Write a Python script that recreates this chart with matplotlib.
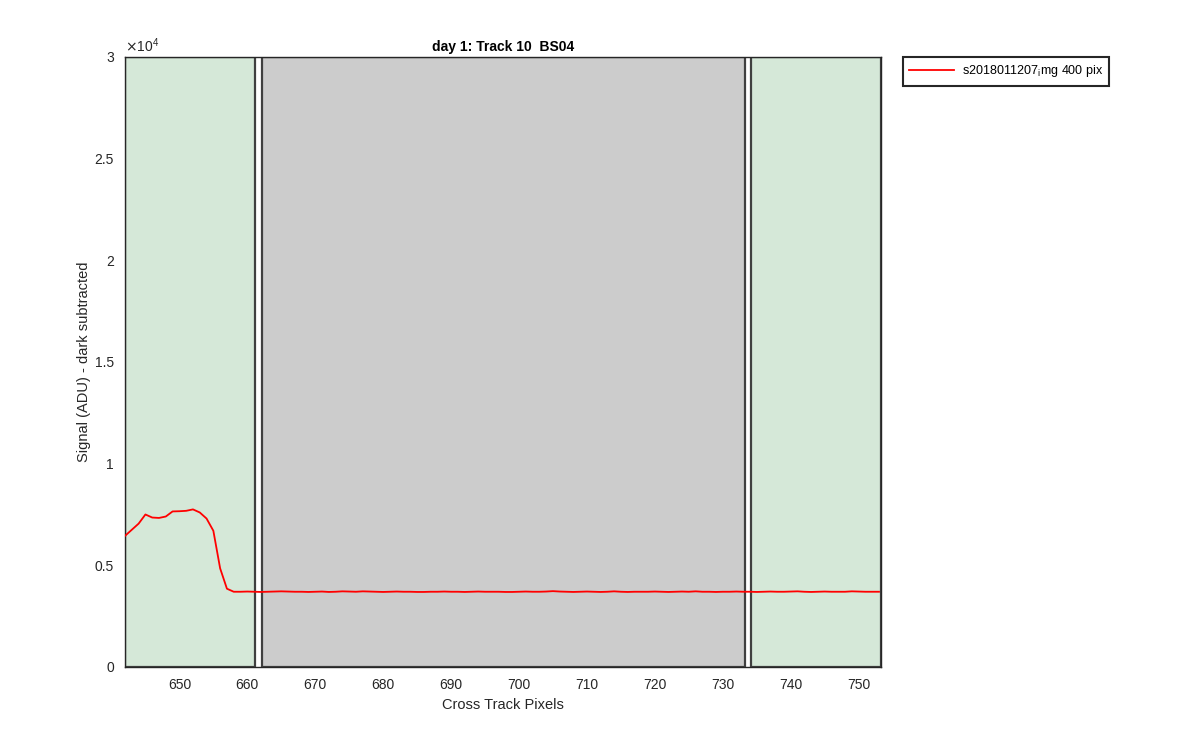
import numpy as np
import matplotlib.pyplot as plt
from matplotlib.patches import Rectangle

plt.rcParams['font.family'] = ['Liberation Sans', 'DejaVu Sans']

# cross track pixel signal, dark subtracted
pix = np.arange(642, 754)
signal = [6450, 6750, 7050, 7500, 7350, 7330, 7400, 7650, 7660, 7680,
          7750, 7600, 7300, 6700, 4850, 3850, 3700, 3700, 3710, 3700,
          3690, 3700, 3710, 3720, 3710, 3700, 3700, 3690, 3700, 3710,
          3690, 3700, 3720, 3710, 3700, 3720, 3710, 3700, 3690, 3700,
          3710, 3700, 3700, 3690, 3690, 3700, 3700, 3710, 3700, 3700,
          3690, 3700, 3710, 3700, 3700, 3700, 3690, 3690, 3700, 3710,
          3700, 3700, 3710, 3730, 3710, 3700, 3690, 3700, 3710, 3700,
          3690, 3700, 3720, 3700, 3690, 3700, 3700, 3700, 3710, 3700,
          3690, 3700, 3710, 3700, 3720, 3700, 3700, 3690, 3700, 3700,
          3710, 3700, 3700, 3690, 3700, 3710, 3700, 3700, 3710, 3720,
          3700, 3690, 3700, 3710, 3700, 3700, 3700, 3720, 3710, 3700,
          3700, 3700]

# region boxes (start, end)
green_regions = [(642, 661.1), (734.2, 753.3)]
gray_region = (662.2, 733.2)

fig = plt.figure(figsize=(12, 7.5), dpi=100)
ax = fig.add_axes([0.1042, 0.1107, 0.6300, 0.8133])

edge = '#404040'
for x0, x1 in green_regions:
    ax.add_patch(Rectangle((x0, 0), x1 - x0, 30000, facecolor='#d5e8d8',
                           edgecolor=edge, linewidth=1.6, zorder=1))
ax.add_patch(Rectangle((gray_region[0], 0), gray_region[1] - gray_region[0], 30000,
                       facecolor='#cccccc', edgecolor=edge, linewidth=1.6, zorder=1))

ax.plot(pix, signal, color='#ff0000', linewidth=1.3, zorder=3,
        label='s2018011207$_{\\mathregular{i}}$mg 400 pix')

ax.set_xlim(642, 753.3)
ax.set_ylim(0, 30000)
ax.set_xticks(np.arange(650, 751, 10))
yt = np.arange(0, 30001, 5000)
ax.set_yticks(yt)
ax.set_yticklabels(['%g' % (v / 1e4) for v in yt])
ax.text(0, 1.003, r'$\times$10$^{\mathregular{4}}$', transform=ax.transAxes,
        fontsize=10, color='#262626', va='bottom', ha='left')

ax.tick_params(direction='in', length=0, labelsize=10, colors='#262626', pad=8)
for s in ax.spines.values():
    s.set_color('#262626')
    s.set_linewidth(1.0)

ax.set_title('day 1: Track 10  BS04', fontsize=10, fontweight='bold', color='black', pad=4)
ax.set_xlabel('Cross Track Pixels', fontsize=10.5, color='#262626')
ax.set_ylabel('Signal (ADU) - dark subtracted', fontsize=10.5, color='#262626')
ax.yaxis.set_label_coords(-0.045, 0.5)

leg = fig.legend(loc='upper left', bbox_to_anchor=(0.7525, 0.924), fontsize=9,
                 fancybox=False, framealpha=1, edgecolor='#262626',
                 handlelength=3.6, handletextpad=0.6, borderpad=0.5,
                 borderaxespad=0)
leg.get_frame().set_linewidth(1.5)

fig.savefig('out.png', dpi=100)
